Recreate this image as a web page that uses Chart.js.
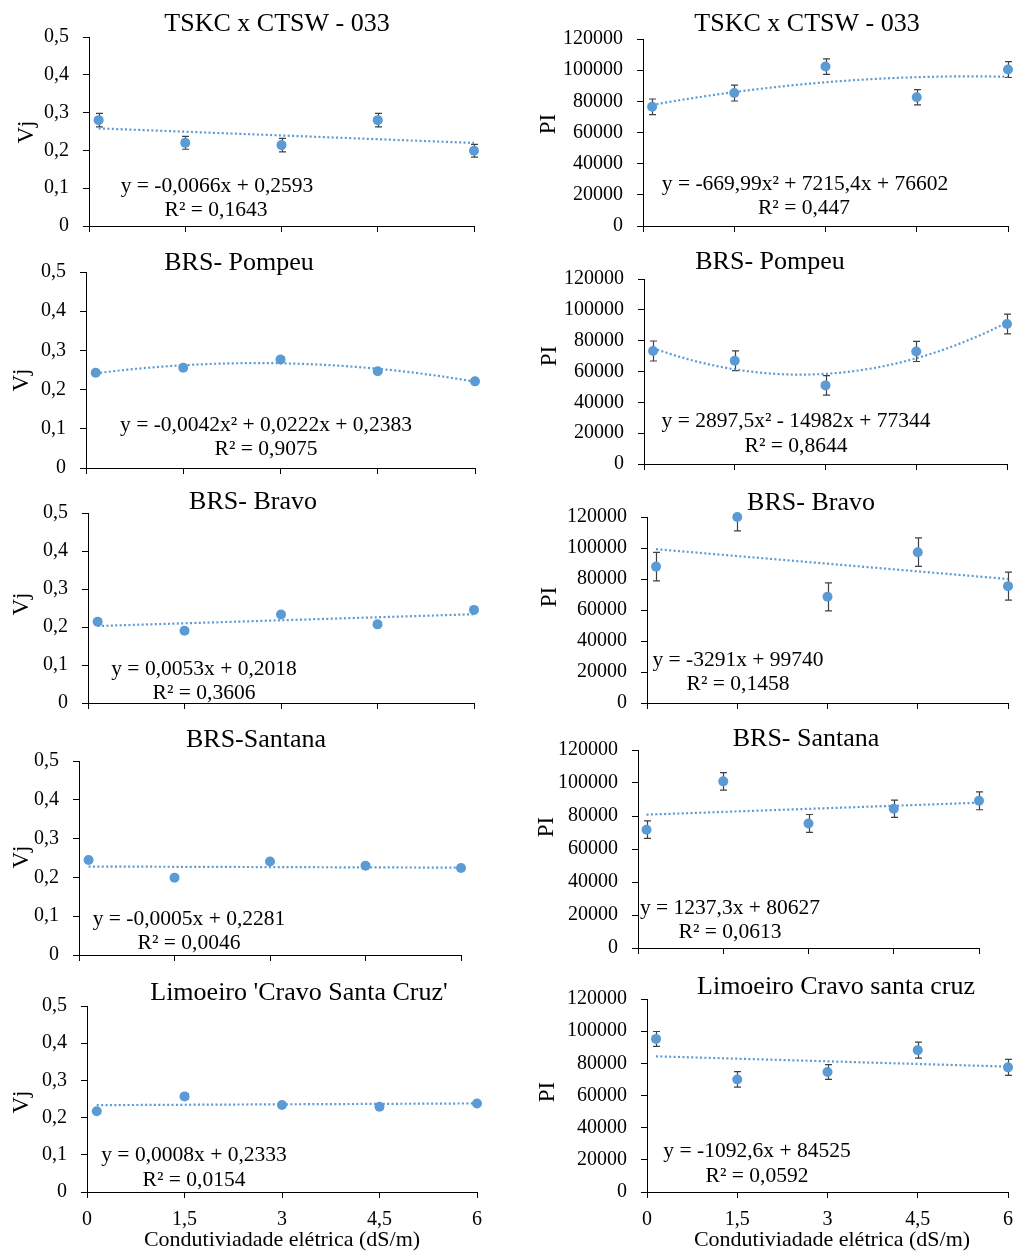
<!DOCTYPE html>
<html><head><meta charset="utf-8">
<script src="https://cdn.jsdelivr.net/npm/chart.js@4.4.0/dist/chart.umd.min.js"></script>
<style>
html,body{margin:0;padding:0;background:#fff;}
#wrap{position:relative;width:1019px;height:1251px;overflow:hidden;background:#fff;}
canvas{position:absolute;}
</style></head><body><div id="wrap"></div>
<script>
// ---------- DATA ----------
const xValues = [0.15, 1.5, 3, 4.5, 6];
const xTickLabels = ['0', '1,5', '3', '4,5', '6'];
const xAxisTitle = 'Condutiviadade elétrica (dS/m)';
const vjTickLabels = ['0', '0,1', '0,2', '0,3', '0,4', '0,5'];
const piTickLabels = ['0', '20000', '40000', '60000', '80000', '100000', '120000'];
const vjAxisTitle = 'Vj';
const piAxisTitle = 'PI';

const titlesVj = ['TSKC x CTSW - 033', 'BRS- Pompeu', 'BRS- Bravo', 'BRS-Santana', "Limoeiro 'Cravo Santa Cruz'"];
const titlesPI = ['TSKC x CTSW - 033', 'BRS- Pompeu', 'BRS- Bravo', 'BRS- Santana', 'Limoeiro Cravo santa cruz'];

const vjTSKC = [0.280, 0.220, 0.214, 0.280, 0.199];
const vjErrTSKC = [0.018, 0.017, 0.018, 0.018, 0.017];
const vjPompeu = [0.243, 0.256, 0.277, 0.247, 0.221];
const vjErrPompeu = [0.005, 0.005, 0.005, 0.005, 0.005];
const vjBravo = [0.214, 0.190, 0.233, 0.207, 0.245];
const vjErrBravo = [0.006, 0.005, 0.006, 0.005, 0.005];
const vjSantana = [0.245, 0.199, 0.241, 0.230, 0.224];
const vjErrSantana = [0.004, 0.004, 0.004, 0.004, 0.004];
const vjLimoeiro = [0.217, 0.257, 0.234, 0.229, 0.238];
const vjErrLimoeiro = [0.005, 0.007, 0.005, 0.005, 0.005];

const piTSKC = [76500, 85300, 102300, 82600, 100400];
const piErrTSKC = [5000, 5100, 5000, 4900, 5100];
const piPompeu = [73300, 67000, 51000, 73000, 90800];
const piErrPompeu = [6500, 6400, 6300, 6500, 6400];
const piBravo = [88000, 120000, 68500, 97300, 75400];
const piErrBravo = [9200, 9000, 9000, 9200, 9000];
const piSantana = [71700, 101000, 75500, 84400, 89200];
const piErrSantana = [5300, 5300, 5400, 5200, 5400];
const piLimoeiro = [95200, 70000, 74600, 88200, 77500];
const piErrLimoeiro = [4600, 4800, 4600, 5000, 5000];

// trendline coefficients [c0, c1, c2] for y = c0 + c1 x + c2 x^2 (as printed)
const trendVjTSKC = [0.2593, -0.0066, 0];
const trendVjPompeu = [0.2383, 0.0222, -0.0042];
const trendVjBravo = [0.2018, 0.0053, 0];
const trendVjSantana = [0.2281, -0.0005, 0];
const trendVjLimoeiro = [0.2333, 0.0008, 0];
const trendPITSKC = [76602, 7215.4, -669.99];
const trendPIPompeu = [77344, -14982, 2897.5];
const trendPIBravo = [99740, -3291, 0];
const trendPISantana = [80627, 1237.3, 0];
const trendPILimoeiro = [84525, -1092.6, 0];

const eqVjTSKC = ['y = -0,0066x + 0,2593', 'R² = 0,1643'];
const eqVjPompeu = ['y = -0,0042x² + 0,0222x + 0,2383', 'R² = 0,9075'];
const eqVjBravo = ['y = 0,0053x + 0,2018', 'R² = 0,3606'];
const eqVjSantana = ['y = -0,0005x + 0,2281', 'R² = 0,0046'];
const eqVjLimoeiro = ['y = 0,0008x + 0,2333', 'R² = 0,0154'];
const eqPITSKC = ['y = -669,99x² + 7215,4x + 76602', 'R² = 0,447'];
const eqPIPompeu = ['y = 2897,5x² - 14982x + 77344', 'R² = 0,8644'];
const eqPIBravo = ['y = -3291x + 99740', 'R² = 0,1458'];
const eqPISantana = ['y = 1237,3x + 80627', 'R² = 0,0613'];
const eqPILimoeiro = ['y = -1092,6x + 84525', 'R² = 0,0592'];

// ---------- LAYOUT (page coordinates) ----------
const FONT = "'Liberation Serif', 'Times New Roman', serif";
const MARK = '#5B9BD5';
const cols = [{cx: 0, w: 510}, {cx: 510, w: 509}];
const rows = [{cy: 0, h: 240}, {cy: 240, h: 240}, {cy: 480, h: 240}, {cy: 720, h: 250}, {cy: 970, h: 281}];

const panels = [
  {col:0,row:0,kind:'vj',title:titlesVj[0],values:vjTSKC,errors:vjErrTSKC,coef:trendVjTSKC,eq:eqVjTSKC,
   L:89,R:474,T:37,B:226,tPos:[277,24],e1:[217,186],e2:[216,210],yt:[27,132]},
  {col:0,row:1,kind:'vj',title:titlesVj[1],values:vjPompeu,errors:vjErrPompeu,coef:trendVjPompeu,eq:eqVjPompeu,
   L:86,R:475,T:272,B:468,tPos:[239,263],e1:[266,425],e2:[266,449],yt:[22,380]},
  {col:0,row:2,kind:'vj',title:titlesVj[2],values:vjBravo,errors:vjErrBravo,coef:trendVjBravo,eq:eqVjBravo,
   L:88,R:474,T:513,B:703,tPos:[253,502],e1:[204,669],e2:[204,693],yt:[22,604]},
  {col:0,row:3,kind:'vj',title:titlesVj[3],values:vjSantana,errors:vjErrSantana,coef:trendVjSantana,eq:eqVjSantana,
   L:79,R:461,T:761,B:955,tPos:[256,740],e1:[189,919],e2:[189,943],yt:[22,857]},
  {col:0,row:4,kind:'vj',title:titlesVj[4],values:vjLimoeiro,errors:vjErrLimoeiro,coef:trendVjLimoeiro,eq:eqVjLimoeiro,
   L:87,R:477,T:1006,B:1192,tPos:[299,993],e1:[194,1155],e2:[194,1180],yt:[22,1102],xt:[282,1240]},
  {col:1,row:0,kind:'pi',title:titlesPI[0],values:piTSKC,errors:piErrTSKC,coef:trendPITSKC,eq:eqPITSKC,
   L:643,R:1008,T:39,B:226,tPos:[807,24],e1:[805,184],e2:[804,208],yt:[549,124]},
  {col:1,row:1,kind:'pi',title:titlesPI[1],values:piPompeu,errors:piErrPompeu,coef:trendPIPompeu,eq:eqPIPompeu,
   L:644,R:1007,T:279,B:464,tPos:[770,262],e1:[796,421],e2:[796,446],yt:[550,356]},
  {col:1,row:2,kind:'pi',title:titlesPI[2],values:piBravo,errors:piErrBravo,coef:trendPIBravo,eq:eqPIBravo,
   L:647,R:1008,T:517,B:703,tPos:[811,503],e1:[738,660],e2:[738,684],yt:[550,597]},
  {col:1,row:3,kind:'pi',title:titlesPI[3],values:piSantana,errors:piErrSantana,coef:trendPISantana,eq:eqPISantana,
   L:638,R:979,T:750,B:948,tPos:[806,739],e1:[730,908],e2:[730,932],yt:[547,827]},
  {col:1,row:4,kind:'pi',title:titlesPI[4],values:piLimoeiro,errors:piErrLimoeiro,coef:trendPILimoeiro,eq:eqPILimoeiro,
   L:647,R:1008,T:999,B:1192,tPos:[836,987],e1:[757,1151],e2:[757,1176],yt:[548,1092],xt:[832,1240]}
];

const wrap = document.getElementById('wrap');

function makeChart(p, idx) {
  const c = cols[p.col], r = rows[p.row];
  const cv = document.createElement('canvas');
  cv.width = c.w; cv.height = r.h;
  cv.style.left = c.cx + 'px'; cv.style.top = r.cy + 'px';
  cv.style.width = c.w + 'px'; cv.style.height = r.h + 'px';
  wrap.appendChild(cv);

  const isVj = p.kind === 'vj';
  const tickLabels = isVj ? vjTickLabels : piTickLabels;
  const yMax = isVj ? 0.5 : 120000;
  const yStep = isVj ? 0.1 : 20000;
  const showX = p.row === 4;

  const pts = xValues.map((x, i) => ({x: x, y: p.values[i]}));
  const trend = [];
  const N = 60;
  const x0 = xValues[0], x1 = xValues[xValues.length - 1];
  for (let i = 0; i <= N; i++) {
    const x = x0 + (x1 - x0) * i / N;
    trend.push({x: x, y: p.coef[0] + p.coef[1] * x + p.coef[2] * x * x});
  }

  const errPlugin = {
    id: 'errbars' + idx,
    beforeDatasetsDraw(chart) {
      const ctx = chart.ctx, xs = chart.scales.x, ys = chart.scales.y, a = chart.chartArea;
      ctx.save();
      ctx.beginPath();
      ctx.rect(a.left - 10, a.top, a.right - a.left + 20, a.bottom - a.top);
      ctx.clip();
      ctx.strokeStyle = '#404040';
      ctx.lineWidth = 1.2;
      p.values.forEach((v, i) => {
        const e = p.errors[i];
        const px = Math.round(xs.getPixelForValue(xValues[i])) + 0.5;
        const y1 = ys.getPixelForValue(v + e), y2 = ys.getPixelForValue(v - e);
        ctx.beginPath();
        ctx.moveTo(px, y1); ctx.lineTo(px, y2);
        ctx.moveTo(px - 3.5, y1); ctx.lineTo(px + 3.5, y1);
        ctx.moveTo(px - 3.5, y2); ctx.lineTo(px + 3.5, y2);
        ctx.stroke();
      });
      ctx.restore();
    }
  };

  const textPlugin = {
    id: 'texts' + idx,
    afterDraw(chart) {
      const ctx = chart.ctx;
      const ox = c.cx, oy = r.cy;
      ctx.save();
      ctx.fillStyle = '#000';
      ctx.textAlign = 'center';
      ctx.textBaseline = 'middle';
      ctx.font = '26px ' + FONT;
      ctx.fillText(p.title, p.tPos[0] - ox, p.tPos[1] - oy);
      ctx.font = '21.5px ' + FONT;
      ctx.fillText(p.eq[0], p.e1[0] - ox, p.e1[1] - oy);
      ctx.fillText(p.eq[1], p.e2[0] - ox, p.e2[1] - oy);
      if (p.xt) {
        ctx.font = '22px ' + FONT;
        ctx.fillText(xAxisTitle, p.xt[0] - ox, p.xt[1] - oy);
      }
      ctx.translate(p.yt[0] - ox, p.yt[1] - oy);
      ctx.rotate(-Math.PI / 2);
      ctx.font = '23px ' + FONT;
      ctx.fillText(isVj ? vjAxisTitle : piAxisTitle, 0, 0);
      ctx.restore();
    }
  };

  const axisW = p.L - c.cx;
  const padTop = p.T - r.cy;
  const padRight = (c.cx + c.w) - p.R;
  const xAxisH = (r.cy + r.h) - p.B;

  new Chart(cv, {
    type: 'scatter',
    data: {
      datasets: [
        {type: 'scatter', data: pts, pointRadius: 5, pointHoverRadius: 5, pointStyle: 'circle',
         backgroundColor: MARK, borderColor: MARK, borderWidth: 0, clip: false, order: 0},
        {type: 'line', data: trend, borderColor: MARK, borderWidth: 2.2, borderDash: [2, 2.4],
         pointRadius: 0, fill: false, tension: 0, order: 1, clip: false}
      ]
    },
    options: {
      responsive: false, animation: false, devicePixelRatio: 1, events: [],
      layout: {padding: {left: 0, top: padTop, right: padRight, bottom: 0}},
      plugins: {legend: {display: false}, tooltip: {enabled: false}, title: {display: false}},
      scales: {
        x: {
          type: 'linear', position: 'bottom', min: 0, max: 6,
          afterFit(s) { s.height = xAxisH; s.paddingLeft = 0; s.paddingRight = 0; s.paddingTop = 0; s.paddingBottom = 0; },
          ticks: {display: showX, stepSize: 1.5, autoSkip: false, maxRotation: 0, padding: 10,
                  color: '#000', font: {family: FONT, size: 20},
                  callback: (v) => xTickLabels[Math.round(v / 1.5)]},
          grid: {display: true, drawOnChartArea: false, drawTicks: true, tickLength: 6, color: '#000', tickColor: '#000'},
          border: {display: true, color: '#000', width: 1}
        },
        y: {
          type: 'linear', position: 'left', min: 0, max: yMax,
          afterFit(s) { s.width = axisW; s.paddingTop = 0; s.paddingBottom = 0; s.paddingLeft = 0; s.paddingRight = 0; },
          ticks: {stepSize: yStep, autoSkip: false, padding: 14, color: '#000',
                  font: {family: FONT, size: 20},
                  callback: (v) => tickLabels[Math.round(v / yStep)]},
          grid: {display: true, drawOnChartArea: false, drawTicks: true, tickLength: 6, color: '#000', tickColor: '#000'},
          border: {display: true, color: '#000', width: 1}
        }
      }
    },
    plugins: [errPlugin, textPlugin]
  });
}

panels.forEach((p, i) => makeChart(p, i));
</script>
</body></html>
